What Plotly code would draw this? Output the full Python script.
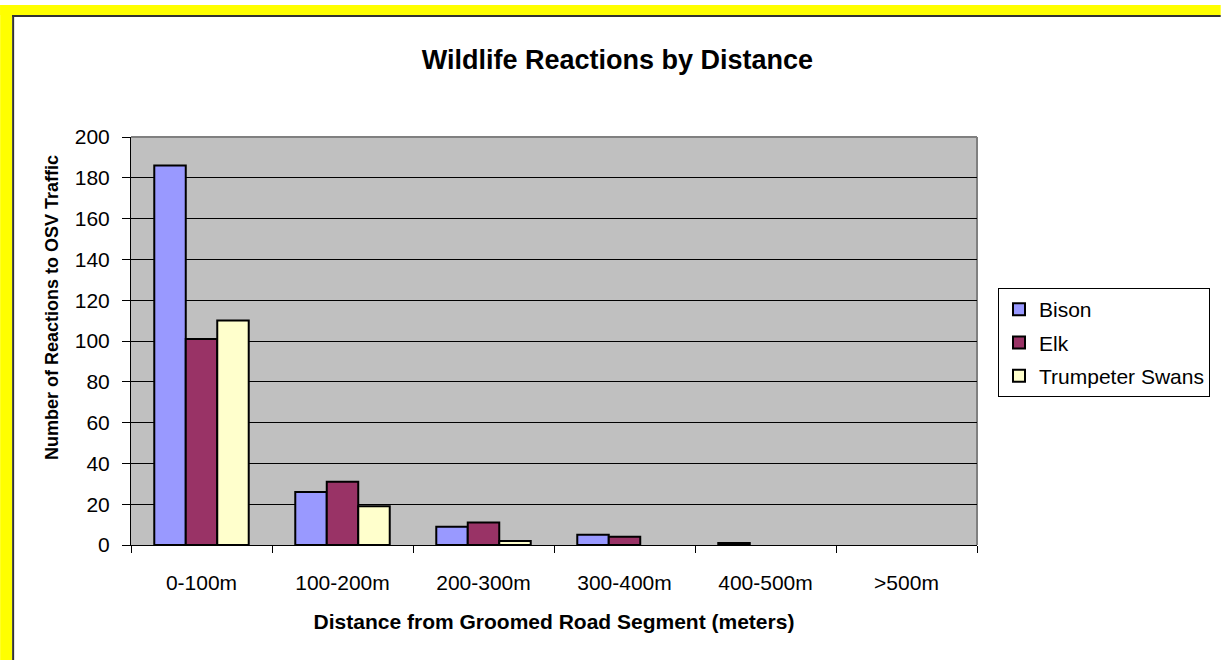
import plotly.graph_objects as go

# Distance bands from the groomed road and reaction counts per species
distances = ["0-100m", "100-200m", "200-300m", "300-400m", "400-500m", ">500m"]
bison = [186, 26, 9, 5, 1, 0]
elk = [101, 31, 11, 4, 0, 0]
swans = [110, 19, 2, 0, 0, 0]

W, H = 1221, 660
L, R, T, B = 131, 978, 137, 545  # plot area in pixels


def px(x):
    return (x - L) / (R - L)


def py(y):
    return (B - y) / (B - T)


FONT = "Arial, 'Liberation Sans', sans-serif"

fig = go.Figure()
for i, (name, vals, color) in enumerate([("Bison", bison, "#9999FF"),
                                         ("Elk", elk, "#993366"),
                                         ("Trumpeter Swans", swans, "#FFFFCC")]):
    fig.add_trace(go.Bar(
        x=distances, y=vals, name=name, legendgroup=f"g{i}",
        marker=dict(color=color,
                    line=dict(color="black", width=[2 if v > 0 else 0 for v in vals])),
    ))

shapes = [
    # yellow frame along top and left edge
    dict(type="rect", xref="paper", yref="paper", x0=px(0), x1=px(12), y0=py(5), y1=py(661),
         fillcolor="#FFFF00", line=dict(width=0), layer="above"),
    dict(type="rect", xref="paper", yref="paper", x0=px(0), x1=px(1222), y0=py(5), y1=py(15),
         fillcolor="#FFFF00", line=dict(width=0), layer="above"),
    dict(type="line", xref="paper", yref="paper", x0=px(13), x1=px(13), y0=py(15), y1=py(661),
         line=dict(color="#333333", width=2), layer="above"),
    dict(type="line", xref="paper", yref="paper", x0=px(12), x1=px(1222), y0=py(16), y1=py(16),
         line=dict(color="#333333", width=2), layer="above"),
    # plot area frame (top and right)
    dict(type="line", xref="paper", yref="paper", x0=0, x1=1, y0=1, y1=1,
         line=dict(color="#808080", width=2), layer="between"),
    dict(type="line", xref="paper", yref="paper", x0=1, x1=1, y0=0, y1=1,
         line=dict(color="#808080", width=2), layer="between"),
]

annotations = [
    dict(text="<b>Number of Reactions to OSV Traffic</b>", textangle=-90,
         xref="paper", yref="paper", x=px(52), y=py(308),
         xanchor="center", yanchor="middle", showarrow=False,
         font=dict(size=18, color="black")),
]

fig.update_layout(
    width=W, height=H,
    margin=dict(l=L, r=W - R, t=T, b=H - B, pad=0),
    paper_bgcolor="white",
    plot_bgcolor="#C0C0C0",
    barmode="group",
    bargap=0.33,
    bargroupgap=0,
    font=dict(family=FONT, color="black", size=21),
    title=dict(text="<b>Wildlife Reactions by Distance</b>", x=px(618), xref="paper",
               y=1 - 60 / H, yanchor="middle", xanchor="center",
               font=dict(size=27, color="black")),
    xaxis=dict(
        showline=True, linecolor="black", linewidth=1,
        ticks="outside", ticklen=7, tickcolor="black",
        tickson="boundaries", showgrid=False,
        tickfont=dict(size=21), ticklabelstandoff=19,
        title=dict(text="<b>Distance from Groomed Road Segment (meters)</b>",
                   font=dict(size=21), standoff=21),
    ),
    yaxis=dict(
        range=[0, 200], dtick=20,
        showline=True, linecolor="black", linewidth=1,
        ticks="outside", ticklen=8, tickcolor="black",
        showgrid=True, gridcolor="black", gridwidth=1,
        zeroline=False,
        tickfont=dict(size=21), ticklabelstandoff=8,
    ),
    legend=dict(
        x=px(998), y=py(288), xanchor="left", yanchor="top",
        bgcolor="white", bordercolor="black", borderwidth=1,
        font=dict(size=21), tracegroupgap=3, itemsizing="constant",
        itemwidth=30,
    ),
    shapes=shapes,
    annotations=annotations,
)

fig.write_html("out.html")
